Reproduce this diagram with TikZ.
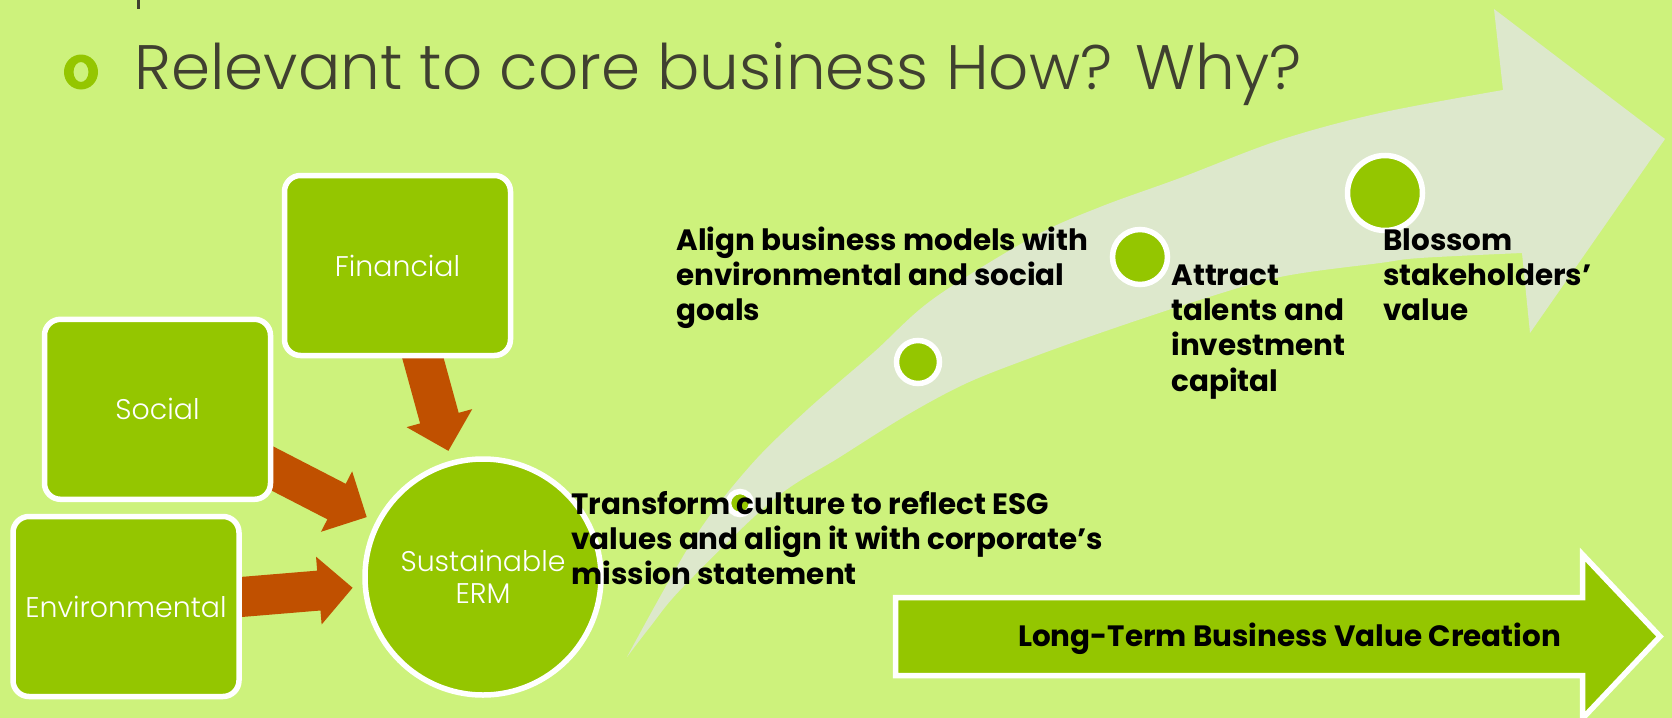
\documentclass[tikz,border=0pt]{standalone}
\usepackage{fontspec}
\setmainfont{Poppins}
\newfontfamily\lightfont{Poppins}[UprightFont={* Light}]
\usetikzlibrary{arrows.meta,backgrounds}

\definecolor{bgc}{RGB}{205,242,124}
\definecolor{leaf}{RGB}{148,198,0}
\definecolor{rust}{RGB}{192,80,0}
\definecolor{mist}{RGB}{221,232,204}
\definecolor{ink}{RGB}{64,64,48}

\begin{document}
\begin{tikzpicture}[x=0.5pt,y=-0.5pt,
  card/.style={draw=white, line width=2.75pt, fill=leaf, rounded corners=8pt,
    minimum width=113pt, minimum height=90pt, inner sep=0pt, text=white,
    font=\lightfont\fontsize{14.2}{16}\selectfont},
  hub/.style={circle, draw=white, line width=2.75pt, fill=leaf, minimum size=118pt,
    inner sep=0pt, text=white, align=center, font=\lightfont\fontsize{14.2}{16}\selectfont},
  feed/.style={rust, line width=20pt, -{Triangle[width=33pt,length=17pt]}, shorten >=5pt},
  dot/.style={circle, draw=white, line width=2.75pt, fill=leaf, inner sep=0pt},
  caption/.style={anchor=base west, inner sep=0pt, align=left, text=black,
    font=\fontsize{14.7}{17.4}\selectfont\bfseries},
]
\useasboundingbox (0,0) rectangle (1672,718);

% heading line
\fill[ink] (136.5,0) rectangle (139.5,9);
\fill[leaf, even odd rule] (81,72) ellipse [x radius=17, y radius=17.5]
  (81,72) ellipse [x radius=7.5, y radius=10];
\node[anchor=base west, inner sep=0pt, text=ink, font=\lightfont\fontsize{31.4}{36}\selectfont]
  (head) at (134,89) {Relevant to core business How? Why?};

% the three pillars and the hub
\node[card] (fin) at (397.5,265.5) {Financial};
\node[card] (soc) at (157.5,409.3) {Social};
\node[card] (env) at (126,606.5) {Environmental};
\node[hub] (erm) at (483,577) {Sustainable\\ERM};

% milestones along the sweeping arrow
\node[dot, minimum size=11.5pt] (d1) at (740,503) {};
\node[dot, minimum size=21.5pt] (d2) at (918,362) {};
\node[dot, minimum size=27.5pt] (d3) at (1140,257) {};
\node[dot, minimum size=37.5pt] (d4) at (1385,193) {};

% captions (anchored on the baseline of their last line)
\node[caption] (t1) at (571,584.3) {Transform culture to reflect ESG\\values and align it with corporate's\\mission statement};
\node[caption, font=\fontsize{14.7}{17.6}\selectfont\bfseries] (t2) at (676,320.5) {Align business models with\\environmental and social\\goals};
\node[caption, font=\fontsize{14.7}{17.55}\selectfont\bfseries] (t3) at (1171,391) {Attract\\talents and\\investment\\capital};
\node[caption, font=\fontsize{14.7}{17.4}\selectfont\bfseries] (t4) at (1383,320.5) {Blossom\\stakeholders'\\value};

% value creation arrow
\draw[fill=leaf, draw=white, line width=2.75pt, line join=miter]
  (895.5,597.5) -- (1582.5,597.5) -- (1582.5,554.5) -- (1660,636.5)
  -- (1582.5,718.5) -- (1582.5,675.5) -- (895.5,675.5) -- cycle;
\node[anchor=base, inner sep=0pt, text=black, font=\fontsize{14.7}{17.4}\selectfont\bfseries]
  (ltv) at (1289.5,646.7) {Long-Term Business Value Creation};

\begin{scope}[on background layer]
  \fill[bgc] (0,0) rectangle (1672,718);
  % sweeping arrow behind the milestones
  \fill[mist] plot[smooth, tension=0.55] coordinates {(627,657) (693,540) (750,466) (807,410)
      (873,353) (933,299) (1033,237) (1100,207) (1180,178) (1280,140) (1380,113) (1503,90)}
    -- (1494,9) -- (1665,139) -- (1530,333) -- (1522,253)
    -- plot[smooth, tension=0.55] coordinates {(1522,253) (1420,258) (1380,263) (1280,277)
      (1190,303) (1100,333) (1033,357) (967,383) (907,415) (840,457) (773,500)
      (683,587) (650,627) (627,657)}
    -- cycle;
  \draw[feed] (fin.center) -- (erm);
  \draw[feed] (soc.center) -- (erm);
  \draw[feed] (env.center) -- (erm);
\end{scope}
\end{tikzpicture}
\end{document}
